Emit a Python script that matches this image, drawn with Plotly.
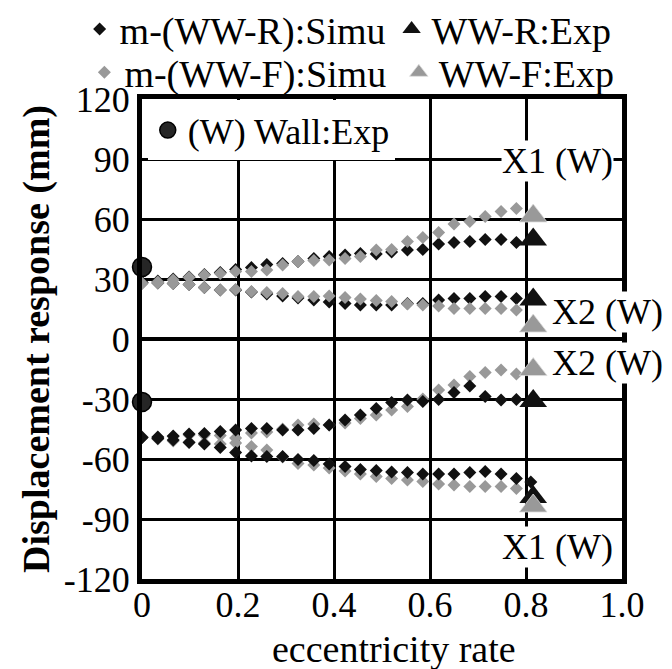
import plotly.graph_objects as go

# eccentricity rate of the simulation points
x_sim = [0.0, 0.033, 0.065, 0.098, 0.13, 0.163, 0.195, 0.228, 0.26, 0.293, 0.325,
         0.358, 0.39, 0.423, 0.455, 0.488, 0.52, 0.553, 0.585, 0.618, 0.65, 0.683,
         0.715, 0.748, 0.78]

# m-(WW-R):Simu
r_x1_pos = [28.3, 29.0, 30.0, 31.0, 32.2, 33.2, 34.8, 35.7, 37.3, 37.8, 38.7, 40.3, 41.2,
            42.0, 42.8, 42.5, 43.5, 44.5, 44.8, 47.5, 48.2, 48.7, 49.8, 49.8, 48.2]
r_x2_pos = [28.3, 28.0, 27.8, 27.3, 25.8, 24.5, 24.5, 23.5, 22.5, 21.5, 20.5, 19.5, 18.5,
            17.8, 17.0, 17.0, 17.0, 17.8, 17.8, 19.5, 20.3, 20.3, 21.2, 21.2, 20.3]
r_x2_neg = [-49.2, -49.0, -48.5, -47.5, -47.2, -46.3, -45.5, -44.7, -44.7, -45.5, -45.5, -44.7,
            -43.0, -40.5, -38.0, -34.7, -31.8, -30.5, -31.3, -30.2, -26.8, -23.5, -28.8, -30.5, -30.2]
r_x1_neg = [-49.2, -49.7, -50.5, -51.8, -52.5, -54.2, -56.8, -58.5, -58.8, -58.8, -60.2, -60.8,
            -62.5, -63.8, -65.2, -65.8, -66.5, -66.8, -67.5, -67.5, -67.5, -66.8, -66.3, -67.5, -69.7]
r_tip_x = [0.81]
r_tip_y = [-71.5]

# m-(WW-F):Simu
f_x1_pos = [27.8, 28.5, 29.5, 30.8, 32.0, 32.8, 33.7, 33.7, 34.5, 37.0, 38.7, 39.2, 39.5,
            40.3, 41.2, 44.5, 44.8, 48.7, 50.8, 53.2, 57.5, 58.7, 61.2, 63.7, 65.3]
f_x2_pos = [27.8, 28.0, 27.8, 27.3, 25.8, 24.5, 24.8, 23.7, 23.2, 22.8, 21.2, 21.2, 21.5,
            20.8, 20.0, 19.2, 18.7, 17.5, 17.0, 16.5, 15.3, 15.3, 15.3, 15.3, 14.5]
f_x2_neg = [-49.0, -49.2, -48.8, -48.0, -48.0, -48.3, -49.5, -47.0, -46.5, -45.0, -43.0, -42.5,
            -43.0, -42.0, -39.7, -38.0, -35.5, -33.8, -30.0, -25.5, -23.0, -18.8, -16.8, -15.5, -17.5]
f_x1_neg = [-49.0, -50.0, -51.0, -51.5, -52.0, -52.5, -52.0, -53.8, -55.5, -59.0, -62.2, -63.0,
            -64.5, -66.0, -67.5, -68.8, -69.7, -70.5, -71.3, -72.5, -73.0, -73.8, -73.8, -73.8, -74.7]

# experiments
x_exp = [0.815, 0.815, 0.815, 0.815]
r_exp = [49.7, 19.7, -31.0, -79.0]
f_exp = [61.5, 6.5, -15.3, -83.5]
x_wall = [0.0, 0.0]
wall_exp = [36.0, -31.5]

x_ticks = [0, 0.2, 0.4, 0.6, 0.8, 1.0]
x_ticktext = ["0", "0.2", "0.4", "0.6", "0.8", "1.0"]
y_ticks = [120, 90, 60, 30, 0, -30, -60, -90, -120]
y_ticktext = ["120", "90", "60", "30", "0", "-30", "-60", "-90", "-120"]

BLACK = "#111111"
GRAY = "#999999"
FONT = "Liberation Serif"
FS = 36

fig = go.Figure()

# positive branches: gray drawn over black
fig.add_trace(go.Scatter(x=x_sim + x_sim, y=r_x1_pos + r_x2_pos, mode="markers",
                         marker=dict(symbol="diamond", size=10, color=BLACK),
                         name="m-(WW-R):Simu", legend="legend", legendgroup="rs"))
fig.add_trace(go.Scatter(x=x_sim + x_sim, y=f_x1_pos + f_x2_pos, mode="markers",
                         marker=dict(symbol="diamond", size=10, color=GRAY),
                         name="m-(WW-F):Simu", legend="legend3", legendgroup="fs"))
# negative branches: black drawn over gray
fig.add_trace(go.Scatter(x=x_sim + x_sim, y=f_x2_neg + f_x1_neg, mode="markers",
                         marker=dict(symbol="diamond", size=10, color=GRAY),
                         showlegend=False, legendgroup="fs"))
fig.add_trace(go.Scatter(x=x_sim + x_sim + r_tip_x, y=r_x2_neg + r_x1_neg + r_tip_y, mode="markers",
                         marker=dict(symbol="diamond", size=10, color=BLACK),
                         showlegend=False, legendgroup="rs"))

fig.add_trace(go.Scatter(x=x_exp, y=r_exp, mode="markers",
                         marker=dict(symbol="triangle-up", size=24, color=BLACK),
                         name="WW-R:Exp", legend="legend2"))
fig.add_trace(go.Scatter(x=x_exp, y=f_exp, mode="markers",
                         marker=dict(symbol="triangle-up", size=24, color=GRAY,
                                     line=dict(color="#dddddd", width=0.8)),
                         name="WW-F:Exp", legend="legend4"))
fig.add_trace(go.Scatter(x=x_wall, y=wall_exp, mode="markers", cliponaxis=False,
                         marker=dict(symbol="circle", size=19, color="#262626",
                                     line=dict(color="#000000", width=1.5)),
                         name="(W) Wall:Exp", legend="legend5"))

def leg(x, y, bg="rgba(0,0,0,0)", fs=38):
    return dict(x=x, y=y, xanchor="left", yanchor="middle", bgcolor=bg,
                borderwidth=0, itemwidth=30, font=dict(family=FONT, size=fs, color="black"))

labels = [
    dict(x=0.866, y=89, text="X1 (W)"),
    dict(x=0.866, y=-104, text="X1 (W)"),
    dict(x=0.97, y=13.5, text="X2 (W)"),
    dict(x=0.97, y=-12, text="X2 (W)"),
]
annotations = [dict(x=a["x"], y=a["y"], text=a["text"], xref="x", yref="y",
                    showarrow=False, bgcolor="white", borderpad=0,
                    font=dict(family=FONT, size=FS, color="black")) for a in labels]
annotations.append(dict(x=0.525, y=-0.146, xref="paper", yref="paper", text="eccentricity rate",
                        showarrow=False, xanchor="center", yanchor="middle",
                        font=dict(family=FONT, size=38, color="black")))

fig.update_layout(
    width=672, height=669,
    margin=dict(l=142, r=50, t=99, b=90, autoexpand=False),
    paper_bgcolor="white", plot_bgcolor="white",
    font=dict(family=FONT, size=FS, color="black"),
    legend=leg(-0.13, 1.145),
    legend2=leg(0.52, 1.145),
    legend3=leg(-0.12, 1.055),
    legend4=leg(0.535, 1.055),
    legend5=leg(0.012, 0.935, "white", 36),
    annotations=annotations,
    xaxis=dict(range=[0, 1.0], tickvals=x_ticks, ticktext=x_ticktext,
               showgrid=True, gridcolor="black", gridwidth=2.5,
               showline=True, mirror=True, linecolor="black", linewidth=5,
               ticks="", zeroline=False, automargin=False, ticklabelstandoff=-10,
               tickfont=dict(family=FONT, size=FS)),
    yaxis=dict(range=[-120, 120], tickvals=y_ticks, ticktext=y_ticktext,
               showgrid=True, gridcolor="black", gridwidth=2.5,
               showline=True, mirror=True, linecolor="black", linewidth=5,
               ticks="", zeroline=True, zerolinecolor="black", zerolinewidth=4,
               automargin=False,
               title=dict(text="<b>Displacement response (mm)</b>",
                          font=dict(family=FONT, size=38), standoff=4),
               tickfont=dict(family=FONT, size=FS)),
)

fig.write_html("out.html")
